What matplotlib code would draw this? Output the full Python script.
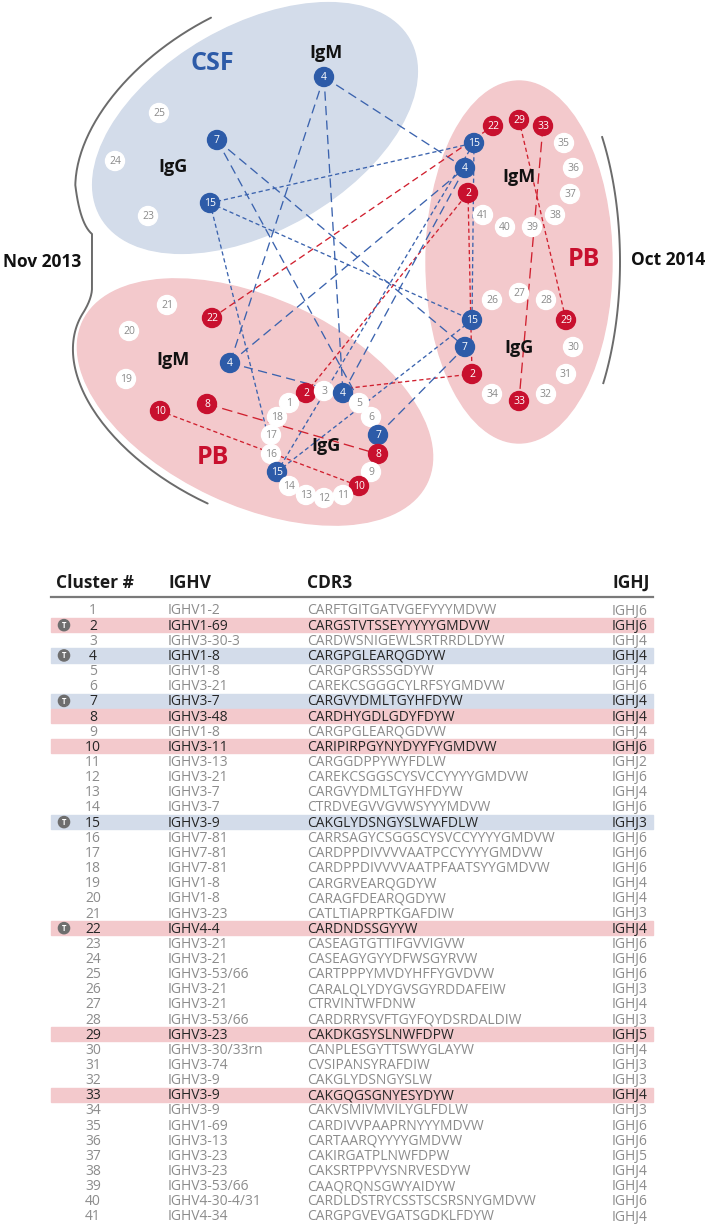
"""Clonal network of B-cell clusters (CSF / peripheral blood, 2013 vs 2014) plus the cluster table."""

import itertools

import matplotlib

matplotlib.use("Agg")
import matplotlib.pyplot as plt
import numpy as np
from matplotlib.patches import Circle, Ellipse

plt.rcParams["font.family"] = ["Open Sans", "DejaVu Sans"]

# ---------------------------------------------------------------- data
# clusters found in each compartment
CSF_IGM = [4]
CSF_IGG = [25, 7, 24, 15, 23]
PB13_IGM = [21, 22, 20, 4, 19, 10, 8]
PB13_IGG = [2, 3, 4, 1, 5, 18, 6, 17, 7, 16, 8, 15, 9, 14, 10, 13, 12, 11]
PB14_IGM = [22, 29, 33, 15, 35, 4, 36, 2, 37, 41, 38, 40, 39]
PB14_IGG = [26, 27, 28, 15, 29, 7, 30, 2, 31, 34, 33, 32]

BLUE_CLUSTERS = [4, 7, 15]
RED_CLUSTERS = [2, 8, 10, 22, 29, 33]
T_CLUSTERS = [2, 4, 7, 15, 22]

CLUSTER = list(range(1, 42))
IGHV = [
    "IGHV1-2", "IGHV1-69", "IGHV3-30-3", "IGHV1-8", "IGHV1-8", "IGHV3-21",
    "IGHV3-7", "IGHV3-48", "IGHV1-8", "IGHV3-11", "IGHV3-13", "IGHV3-21",
    "IGHV3-7", "IGHV3-7", "IGHV3-9", "IGHV7-81", "IGHV7-81", "IGHV7-81",
    "IGHV1-8", "IGHV1-8", "IGHV3-23", "IGHV4-4", "IGHV3-21", "IGHV3-21",
    "IGHV3-53/66", "IGHV3-21", "IGHV3-21", "IGHV3-53/66", "IGHV3-23",
    "IGHV3-30/33rn", "IGHV3-74", "IGHV3-9", "IGHV3-9", "IGHV3-9", "IGHV1-69",
    "IGHV3-13", "IGHV3-23", "IGHV3-23", "IGHV3-53/66", "IGHV4-30-4/31",
    "IGHV4-34",
]
CDR3 = [
    "CARFTGITGATVGEFYYYMDVW", "CARGSTVTSSEYYYYYGMDVW",
    "CARDWSNIGEWLSRTRRDLDYW", "CARGPGLEARQGDYW", "CARGPGRSSSGDYW",
    "CAREKCSGGGCYLRFSYGMDVW", "CARGVYDMLTGYHFDYW", "CARDHYGDLGDYFDYW",
    "CARGPGLEARQGDVW", "CARIPIRPGYNYDYYFYGMDVW", "CARGGDPPYWYFDLW",
    "CAREKCSGGSCYSVCCYYYYGMDVW", "CARGVYDMLTGYHFDYW", "CTRDVEGVVGVWSYYYMDVW",
    "CAKGLYDSNGYSLWAFDLW", "CARRSAGYCSGGSCYSVCCYYYYGMDVW",
    "CARDPPDIVVVVAATPCCYYYYGMDVW", "CARDPPDIVVVVAATPFAATSYYGMDVW",
    "CARGRVEARQGDYW", "CARAGFDEARQGDYW", "CATLTIAPRPTKGAFDIW", "CARDNDSSGYYW",
    "CASEAGTGTTIFGVVIGVW", "CASEAGYGYYDFWSGYRVW", "CARTPPPYMVDYHFFYGVDVW",
    "CARALQLYDYGVSGYRDDAFEIW", "CTRVINTWFDNW", "CARDRRYSVFTGYFQYDSRDALDIW",
    "CAKDKGSYSLNWFDPW", "CANPLESGYTTSWYGLAYW", "CVSIPANSYRAFDIW",
    "CAKGLYDSNGYSLW", "CAKGQGSGNYESYDYW", "CAKVSMIVMVILYGLFDLW",
    "CARDIVVPAAPRNYYYMDVW", "CARTAARQYYYYGMDVW", "CAKIRGATPLNWFDPW",
    "CAKSRTPPVYSNRVESDYW", "CAAQRQNSGWYAIDYW", "CARDLDSTRYCSSTSCSRSNYGMDVW",
    "CARGPGVEVGATSGDKLFDYW",
]
IGHJ = [
    "IGHJ6", "IGHJ6", "IGHJ4", "IGHJ4", "IGHJ4", "IGHJ6", "IGHJ4", "IGHJ4",
    "IGHJ4", "IGHJ6", "IGHJ2", "IGHJ6", "IGHJ4", "IGHJ6", "IGHJ3", "IGHJ6",
    "IGHJ6", "IGHJ6", "IGHJ4", "IGHJ4", "IGHJ3", "IGHJ4", "IGHJ6", "IGHJ6",
    "IGHJ6", "IGHJ3", "IGHJ4", "IGHJ3", "IGHJ5", "IGHJ4", "IGHJ3", "IGHJ3",
    "IGHJ4", "IGHJ3", "IGHJ6", "IGHJ6", "IGHJ5", "IGHJ4", "IGHJ4", "IGHJ6",
    "IGHJ4",
]

# ---------------------------------------------------------------- layout
BLUE = "#2d5ba8"
RED = "#c8102e"
PINK_BG = "#f3c9cc"
BLUE_BG = "#d3dcea"
LINE_BLUE = "#3b63ae"
LINE_RED = "#d0202f"

# node positions (pixels, y down), same order as the compartment lists
POS = {
    "CSF_IGM": [(324, 77)],
    "CSF_IGG": [(159, 113), (217, 140), (115, 161), (210, 203), (148, 216)],
    "PB13_IGM": [(167, 305), (212, 318), (129, 331), (230, 363), (126, 379),
                 (160, 411), (207, 404)],
    "PB13_IGG": [(306, 393), (324, 391), (343, 393), (289, 403), (359, 403),
                 (277, 417), (371, 417), (271, 435), (378, 435), (271, 454),
                 (378, 454), (277, 472), (371, 472), (289, 486), (359, 486),
                 (306, 495), (324, 498), (343, 495)],
    "PB14_IGM": [(493, 126), (519, 120), (543, 126), (474, 143), (564, 143),
                 (465, 168), (573, 168), (468, 193), (570, 194), (483, 215),
                 (555, 215), (505, 227), (532, 227)],
    "PB14_IGG": [(492, 300), (519, 293), (546, 300), (472, 320), (566, 320),
                 (465, 347), (573, 347), (472, 374), (566, 374), (492, 394),
                 (519, 401), (546, 394)],
}
GROUPS = {
    "CSF_IGM": CSF_IGM, "CSF_IGG": CSF_IGG,
    "PB13_IGM": PB13_IGM, "PB13_IGG": PB13_IGG,
    "PB14_IGM": PB14_IGM, "PB14_IGG": PB14_IGG,
}
LONG_DASH = {4: (7, 4), 7: (7, 4), 8: (8, 4), 33: (8, 4), 22: (5, 3)}
SHORT_DASH = (3.2, 2.2)

fig = plt.figure(figsize=(7.09, 12.24), dpi=100)
ax = fig.add_axes([0, 0, 1, 1])
ax.set_xlim(0, 709)
ax.set_ylim(1224, 0)
ax.axis("off")

# compartments
ax.add_patch(Ellipse((255, 128), 356, 204, angle=-30, color=BLUE_BG, zorder=0))
ax.add_patch(Ellipse((255, 402), 380, 206, angle=25, color=PINK_BG, zorder=0))
ax.add_patch(Ellipse((519, 262), 186, 362, angle=0, color=PINK_BG, zorder=0))


def _arc(c, a, b, ang, t0, t1, n=60):
    t = np.radians(np.linspace(t0, t1, n))
    th = np.radians(ang)
    u = np.array([np.cos(th), np.sin(th)])
    v = np.array([-np.sin(th), np.cos(th)])
    return (np.array(c)[:, None] + a * np.cos(t) * u[:, None]
            + b * np.sin(t) * v[:, None]).T


def _bez(p0, p1, p2, n=15):
    s = np.linspace(0, 1, n)[:, None]
    p0, p1, p2 = map(np.array, (p0, p1, p2))
    return (1 - s) ** 2 * p0 + 2 * (1 - s) * s * p1 + s ** 2 * p2


# left brace (Nov 2013)
upper = _arc((255, 128), 196, 118, -30, -85, -160)
lower = _arc((255, 402), 194, 112, 25, 185, 90)
brace = np.vstack([
    upper,
    _bez(upper[-1], (80, 224), (92, 234)),
    _bez((92, 288), (92, 298), lower[0]),
    lower,
])
ax.plot(brace[:, 0], brace[:, 1], color="#6b6b6b", lw=1.4, zorder=1,
        solid_capstyle="round")
right = _arc((519, 262), 101, 220, 0, -34.6, 33.4)
ax.plot(right[:, 0], right[:, 1], color="#6b6b6b", lw=1.4, zorder=1)

# edges between the same cluster in different compartments
nodes = []
for g, ids in GROUPS.items():
    for cid, xy in zip(ids, POS[g]):
        nodes.append((g, cid, xy))
for (g1, c1, p1), (g2, c2, p2) in itertools.combinations(nodes, 2):
    if c1 != c2 or c1 not in BLUE_CLUSTERS + RED_CLUSTERS:
        continue
    col = LINE_BLUE if c1 in BLUE_CLUSTERS else LINE_RED
    ax.plot([p1[0], p2[0]], [p1[1], p2[1]], color=col, lw=0.95,
            dashes=LONG_DASH.get(c1, SHORT_DASH), zorder=2)

# nodes
for g, cid, (x, y) in nodes:
    if cid in BLUE_CLUSTERS:
        fc, tc = BLUE, "white"
    elif cid in RED_CLUSTERS:
        fc, tc = RED, "white"
    else:
        fc, tc = "white", "#8a8a8a"
    ax.add_patch(Circle((x, y), 9.5, color=fc, zorder=3))
    ax.text(x, y + 0.5, str(cid), ha="center", va="center", fontsize=7.5,
            color=tc, zorder=4)

# compartment labels
ax.text(212, 63, "CSF", fontsize=18, fontweight="bold", color=BLUE,
        ha="center", va="center")
for x, y, s in [(326, 53, "IgM"), (173, 167, "IgG"), (519, 177, "IgM"),
                (519, 348, "IgG"), (173, 360, "IgM"), (326, 446, "IgG")]:
    ax.text(x, y, s, fontsize=13, fontweight="bold", color="#111111",
            ha="center", va="center", zorder=5)
ax.text(584, 260, "PB", fontsize=18, fontweight="bold", color=RED,
        ha="center", va="center")
ax.text(213, 457, "PB", fontsize=18, fontweight="bold", color=RED,
        ha="center", va="center")
ax.text(42, 262, "Nov 2013", fontsize=12.5, fontweight="bold",
        color="#111111", ha="center", va="center")
ax.text(668, 260, "Oct 2014", fontsize=12.5, fontweight="bold",
        color="#111111", ha="center", va="center")

# ---------------------------------------------------------------- table
HEAD_Y = 583
ROW0 = 610
ROW_H = 15.15
COL_NUM, COL_V, COL_CDR, COL_J = 93, 168, 307, 612

for x, s in [(56, "Cluster #"), (COL_V, "IGHV"), (COL_CDR, "CDR3"),
             (COL_J, "IGHJ")]:
    ax.text(x, HEAD_Y, s, fontsize=12.5, fontweight="bold", color="#1a1a1a",
            ha="left", va="center")
ax.plot([51, 653], [597, 597], color="#7a7a7a", lw=1.6)

for i, (cid, v, cdr, j) in enumerate(zip(CLUSTER, IGHV, CDR3, IGHJ)):
    y = ROW0 + i * ROW_H
    if cid in RED_CLUSTERS or cid in BLUE_CLUSTERS:
        band = PINK_BG if cid in RED_CLUSTERS else BLUE_BG
        ax.add_patch(plt.Rectangle((51, y - 7.1), 602, 14.2, color=band,
                                   zorder=0))
        tc = "#262626"
    else:
        tc = "#8c8c8c"
    if cid in T_CLUSTERS:
        ax.add_patch(Circle((64, y), 5.6, color="#6e6e6e", zorder=2))
        ax.text(64, y + 0.3, "T", fontsize=5.5, fontweight="bold",
                color="white", ha="center", va="center", zorder=3)
    ty = y + 1.0
    ax.text(COL_NUM, ty, str(cid), fontsize=10, color=tc, ha="center",
            va="center")
    ax.text(COL_V, ty, v, fontsize=10, color=tc, ha="left", va="center")
    ax.text(COL_CDR, ty, cdr, fontsize=10, color=tc, ha="left", va="center")
    ax.text(COL_J, ty, j, fontsize=10, color=tc, ha="left", va="center")

fig.savefig("out.png", dpi=100)
